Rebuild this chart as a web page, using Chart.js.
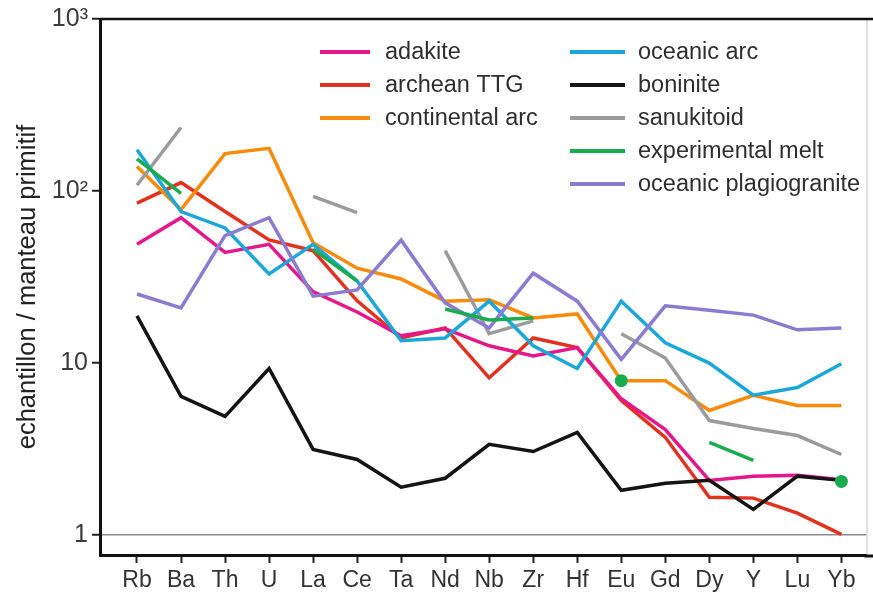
<!DOCTYPE html>
<html>
<head>
<meta charset="utf-8">
<title>Spider diagram</title>
<script src="https://cdn.jsdelivr.net/npm/chart.js@4.4.0/dist/chart.umd.min.js"></script>
<style>
    html, body { margin: 0; padding: 0; background: #fff; }
    #wrap { width: 873px; height: 596px; }
</style>
</head>
<body>
<div id="wrap"><canvas id="spider" width="873" height="596"></canvas></div>
<script>
// Elements on the x axis
const elements = ['Rb', 'Ba', 'Th', 'U', 'La', 'Ce', 'Ta', 'Nd', 'Nb', 'Zr', 'Hf', 'Eu', 'Gd', 'Dy', 'Y', 'Lu', 'Yb'];

// Values normalised to primitive mantle
const adakite      = [49, 70, 44, 49, 26, 19.8, 14.4, 15.8, 12.6, 11.0, 12.3, 6.2, 4.1, 2.08, 2.2, 2.23, 2.1];
const archeanTTG   = [85, 112, 76, 52, 45, 23, 14.0, 16.0, 8.2, 14.0, 12.3, 6.05, 3.7, 1.66, 1.64, 1.34, 1.01];
const continental  = [139, 78, 165, 177, 50, 35.6, 30.8, 22.9, 23.3, 18.3, 19.3, 7.9, 7.9, 5.3, 6.5, 5.66, 5.66];
const oceanicArc   = [174, 76, 61, 33, 49, 30, 13.5, 14.0, 22.9, 12.6, 9.3, 22.9, 13.1, 10.0, 6.5, 7.2, 9.9];
const boninite     = [18.8, 6.4, 4.9, 9.3, 3.15, 2.75, 1.9, 2.14, 3.37, 3.06, 3.95, 1.82, 2.0, 2.08, 1.41, 2.2, 2.08];
const sanukitoid   = [108, 234, null, null, 93, 75, null, 45, 14.8, 17.6, null, 14.8, 10.7, 4.63, 4.17, 3.79, 2.94];
const expMelt      = [154, 97, null, null, 46, 30, null, 20.6, 17.8, 18.3, null, 7.9, null, 3.46, 2.72, null, 2.05];
const plagiogranite = [25.2, 20.9, 55, 70, 24.5, 26.6, 51.8, 22.4, 16.0, 33.3, 22.9, 10.5, 21.5, 20.3, 19.0, 15.6, 16.0];

// Y axis ticks and their labels
const yTicks = [1, 10, 100, 1000];
const yTickLabels = ['1', '10', '10²', '10³'];

const FONT = '"Liberation Sans", Arial, sans-serif';

function toPoints(values) {
    return values.map((v, i) => ({ x: i, y: v }));
}

// show a dot only where the point has no neighbour to join with
function isolatedRadius(values) {
    return values.map((v, i) => {
        if (v === null) return 0;
        const prev = i > 0 ? values[i - 1] : null;
        const next = i < values.length - 1 ? values[i + 1] : null;
        return (prev === null && next === null) ? 6.5 : 0;
    });
}

const series = [
    { label: 'adakite', data: adakite, color: '#e4178b', order: 6 },
    { label: 'archean TTG', data: archeanTTG, color: '#e2311f', order: 7 },
    { label: 'continental arc', data: continental, color: '#f68b0c', order: 5 },
    { label: 'oceanic arc', data: oceanicArc, color: '#1ba8d9', order: 3 },
    { label: 'boninite', data: boninite, color: '#141414', order: 2 },
    { label: 'sanukitoid', data: sanukitoid, color: '#9b9b9b', order: 4 },
    { label: 'experimental melt', data: expMelt, color: '#19ab4f', order: 0 },
    { label: 'oceanic plagiogranite', data: plagiogranite, color: '#8b7bd1', order: 1 }
];

// Legend drawn in two columns inside the plot
const legendColumns = [
    { lineX: 320, lineEnd: 370, textX: 385, items: [0, 1, 2] },
    { lineX: 570, lineEnd: 625, textX: 638, items: [3, 4, 5, 6, 7] }
];

const innerLegend = {
    id: 'innerLegend',
    afterDatasetsDraw(chart) {
        const ctx = chart.ctx;
        ctx.save();
        ctx.font = '23.5px ' + FONT;
        ctx.textBaseline = 'middle';
        ctx.fillStyle = '#2e2e2e';
        legendColumns.forEach(col => {
            col.items.forEach((idx, row) => {
                const y = 52 + row * 33;
                ctx.strokeStyle = series[idx].color;
                ctx.lineWidth = 4;
                ctx.beginPath();
                ctx.moveTo(col.lineX, y);
                ctx.lineTo(col.lineEnd, y);
                ctx.stroke();
                ctx.fillText(series[idx].label, col.textX, y + 1);
            });
        });
        ctx.restore();
    }
};

// top and right edges of the frame
const frame = {
    id: 'frame',
    afterDraw(chart) {
        const { ctx, chartArea: a } = chart;
        ctx.save();
        ctx.strokeStyle = '#c4c4c4';
        ctx.lineWidth = 1;
        ctx.beginPath();
        ctx.moveTo(a.right + 0.5, a.top);
        ctx.lineTo(a.right + 0.5, a.bottom);
        ctx.stroke();
        ctx.strokeStyle = '#111';
        ctx.lineWidth = 2.5;
        ctx.beginPath();
        ctx.moveTo(a.left, a.top);
        ctx.lineTo(chart.width, a.top);
        ctx.stroke();
        ctx.lineWidth = 3;
        ctx.beginPath();
        ctx.moveTo(a.right - 2, a.bottom + 1);
        ctx.lineTo(chart.width, a.bottom + 1);
        ctx.stroke();
        ctx.restore();
    }
};

document.addEventListener('DOMContentLoaded', () => {
    const ctx = document.getElementById('spider').getContext('2d');

    new Chart(ctx, {
        type: 'line',
        data: {
            datasets: series.map(s => ({
                label: s.label,
                data: toPoints(s.data),
                borderColor: s.color,
                backgroundColor: s.color,
                borderWidth: 3.5,
                pointRadius: s.label === 'experimental melt' ? isolatedRadius(s.data) : 0,
                pointBorderWidth: 0,
                tension: 0,
                spanGaps: false,
                fill: false,
                order: s.order
            }))
        },
        options: {
            responsive: false,
            animation: false,
            devicePixelRatio: 1,
            layout: { padding: { top: 17, right: 6, left: 0, bottom: 0 } },
            plugins: {
                legend: { display: false },
                tooltip: { enabled: false }
            },
            scales: {
                x: {
                    type: 'linear',
                    min: -0.84,
                    max: 16.57,
                    afterBuildTicks: axis => {
                        axis.ticks = elements.map((_, i) => ({ value: i }));
                    },
                    afterFit: axis => { axis.height = 41; },
                    ticks: {
                        autoSkip: false,
                        maxRotation: 0,
                        padding: 4,
                        color: '#333',
                        font: { family: FONT, size: 23 },
                        callback: v => elements[v]
                    },
                    grid: {
                        drawOnChartArea: false,
                        tickColor: '#222',
                        tickLength: 8,
                        tickWidth: 2
                    },
                    border: { display: true, color: '#111', width: 3 }
                },
                y: {
                    type: 'logarithmic',
                    min: 0.766,
                    max: 1000,
                    afterBuildTicks: axis => {
                        axis.ticks = yTicks.map(v => ({ value: v }));
                    },
                    afterFit: axis => { axis.width = 100; },
                    ticks: {
                        padding: 4,
                        color: '#3c3c3c',
                        font: { family: FONT, size: 25 },
                        callback: v => yTickLabels[yTicks.indexOf(v)]
                    },
                    grid: {
                        color: c => (c.tick && c.tick.value === 1) ? '#8a8a8a' : 'rgba(0,0,0,0)',
                        lineWidth: 1.5,
                        tickColor: '#222',
                        tickLength: 8,
                        tickWidth: 2
                    },
                    border: { display: true, color: '#111', width: 3 },
                    title: {
                        display: true,
                        text: 'echantillon / manteau primitif',
                        color: '#222',
                        font: { family: FONT, size: 25.5 },
                        padding: { top: 13, bottom: 0 }
                    }
                }
            }
        },
        plugins: [innerLegend, frame]
    });
});
</script>
</body>
</html>
